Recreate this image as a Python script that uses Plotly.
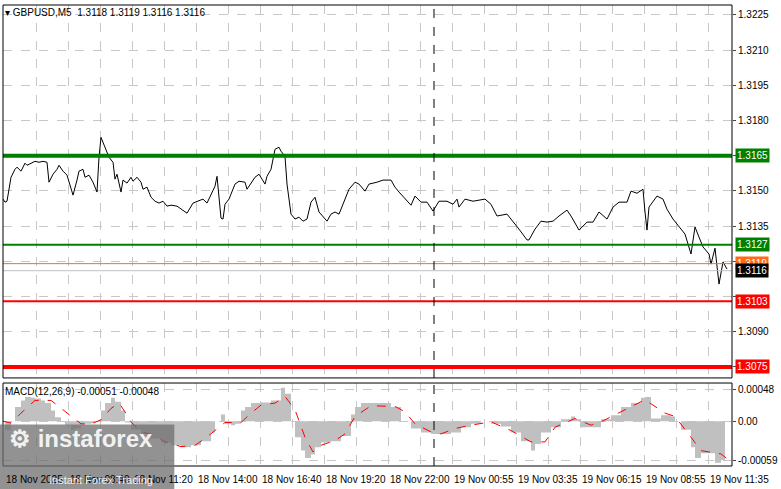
import plotly.graph_objects as go

# price series (bar index, close)
bars = [0,1,2,4,6,7,9,11,12,14,16,18,20,22,23,25,27,28,30,32,34,35,37,38,40,41,43,45,47,48,49,51,53,55,56,57,59,60,62,64,65,67,69,70,72,74,76,78,80,82,84,87,90,92,95,97,100,102,103,106,107,109,110,111,113,116,118,121,122,124,126,128,129,131,132,134,136,138,139,141,142,144,146,148,150,152,154,156,158,160,162,164,166,168,169,171,173,176,178,181,183,187,190,194,196,198,201,204,206,209,212,215,218,222,225,227,228,231,235,241,244,247,252,255,258,262,263,266,269,272,275,278,282,284,288,292,295,298,302,305,308,312,314,317,320,321,322,323,327,330,332,335,338,341,344,346,348,350,353,354,356,358,360,362]
prices = [1.31465,1.31452,1.31456,1.31558,1.31592,1.31601,1.31584,1.31618,1.31609,1.31618,1.31626,1.31622,1.31626,1.31622,1.31537,1.31571,1.31592,1.31609,1.31584,1.31567,1.31516,1.31482,1.31546,1.31584,1.31592,1.31558,1.31567,1.31537,1.31495,1.31643,1.31728,1.31686,1.31643,1.31622,1.31550,1.31571,1.31495,1.31546,1.31533,1.31558,1.31541,1.31558,1.31537,1.31507,1.31516,1.31473,1.31456,1.31448,1.31456,1.31435,1.31439,1.31435,1.31418,1.31405,1.31448,1.31456,1.31465,1.31448,1.31465,1.31520,1.31562,1.31384,1.31380,1.31443,1.31465,1.31529,1.31541,1.31537,1.31507,1.31533,1.31558,1.31571,1.31558,1.31529,1.31562,1.31592,1.31677,1.31686,1.31669,1.31647,1.31529,1.31401,1.31380,1.31388,1.31371,1.31380,1.31452,1.31473,1.31410,1.31388,1.31371,1.31401,1.31410,1.31401,1.31422,1.31465,1.31507,1.31537,1.31529,1.31499,1.31529,1.31537,1.31546,1.31546,1.31516,1.31495,1.31465,1.31439,1.31478,1.31452,1.31452,1.31414,1.31456,1.31456,1.31443,1.31465,1.31431,1.31465,1.31456,1.31465,1.31443,1.31393,1.31401,1.31371,1.31337,1.31291,1.31291,1.31337,1.31371,1.31367,1.31371,1.31393,1.31418,1.31393,1.31333,1.31367,1.31367,1.31410,1.31380,1.31431,1.31452,1.31452,1.31499,1.31490,1.31507,1.31410,1.31333,1.31431,1.31478,1.31465,1.31422,1.31380,1.31350,1.31316,1.31231,1.31346,1.31303,1.31261,1.31231,1.31188,1.31256,1.31103,1.31197,1.31167]

hist_bars = [0,1,4,6,9,11,14,16,19,21,24,26,29,31,34,36,39,41,44,46,49,51,54,56,59,61,64,69,74,79,84,89,94,99,104,106,109,111,114,116,119,121,124,129,134,139,141,144,146,149,151,154,156,159,164,169,174,176,179,184,189,194,199,204,209,214,219,224,229,234,239,244,249,254,259,264,266,269,274,279,284,286,289,294,299,304,309,314,319,321,324,329,334,336,339,344,346,349,354,356,359,361]
hist_vals = [0,-0.000135,0,0.00021,0.00031,0.00036,0.00035,0.00034,0.00031,0.00027,0.00016,0.00006,0,-0.00006,-0.00013,-0.00011,-0.00006,-0.00004,-0.00003,0,0.00016,0.00027,0.00035,0.00029,0.00016,-0.00002,-0.00013,-0.00019,-0.00026,-0.00032,-0.00036,-0.00039,-0.00036,-0.0003,-0.00017,0,0.0001,-0.00004,-0.00006,-0.00004,0.00016,0.00021,0.00027,0.00028,0.00031,0.0005,0.00041,0,-0.00024,-0.00044,-0.00055,-0.0005,-0.00039,-0.00032,-0.0003,-0.00022,0.0001,0.00021,0.00027,0.00027,0.00027,0.00021,0,-0.00011,-0.00017,-0.00019,-0.00019,-0.00017,-0.00009,-0.00004,0,-0.00004,-0.00008,-0.00017,-0.0003,-0.00044,-0.00034,-0.00017,-0.00009,0.00003,0.00007,0.00003,-0.00009,-0.00009,0.00003,0.00009,0.00021,0.00027,0.00035,0.00036,0.00004,0.00009,0.00007,0,-0.00013,-0.00039,-0.00055,-0.00048,-0.00048,-0.00062,-0.00058,-0.00062]

sig_bars = [0,4,9,16,24,29,34,39,44,49,54,58,61,64,69,76,81,89,96,101,106,111,119,124,129,136,141,146,151,155,159,166,171,176,184,196,201,206,214,219,226,234,244,254,264,271,276,286,294,299,309,321,331,336,344,349,359,362]
sig_vals = [0,-0.00003,0.00012,0.00031,0.00031,0.00019,0.00007,-0.00004,-0.00004,0.00002,0.00019,0.00027,0.00014,-0.00001,-0.00016,-0.00021,-0.00031,-0.00038,-0.00036,-0.00026,-0.00014,-0.00002,-0.00002,0.00012,0.00024,0.00027,0.00037,0.00017,-0.00024,-0.00046,-0.00036,-0.00029,-0.00019,0.00007,0.00023,0.00022,0.00014,-0.00004,-0.00016,-0.00019,-0.00011,-0.00006,-0.00001,-0.00014,-0.00031,-0.00031,-0.00009,0.00004,-0.00006,-0.00001,0.00014,0.00032,0.00012,0.00007,-0.00024,-0.00044,-0.00049,-0.00056]

price_ticks = [1.3225,1.3210,1.3195,1.3180,1.3165,1.3150,1.3135,1.3120,1.3105,1.3090,1.3075]
price_tick_labels = ["1.3225","1.3210","1.3195","1.3180","","1.3150","1.3135","","","1.3090",""]
levels = [1.3165, 1.3127, 1.3103, 1.3075]
level_colors = ["#008000", "#008000", "#ff0000", "#ff0000"]
level_widths = [4, 2, 2, 4]
time_pos = [0.5, 32.5, 64.5, 96.5, 128.5, 160.5, 192.5, 224.5, 256.5, 288.5, 320.5, 352.5]
time_labels = ["18 Nov 2025","18 Nov 08:40","18 Nov 11:20","18 Nov 14:00","18 Nov 16:40","18 Nov 19:20",
               "18 Nov 22:00","19 Nov 00:55","19 Nov 03:35","19 Nov 06:15","19 Nov 08:55","19 Nov 11:35"]
separator_bar = 215.5

F = "Liberation Sans"
FS = 10
fig = go.Figure()
fig.add_trace(go.Scatter(x=hist_bars, y=hist_vals, mode="lines", line=dict(width=0, shape="hv"),
                         fill="tozeroy", fillcolor="#c0c0c0", xaxis="x2", yaxis="y2"))
fig.add_trace(go.Scatter(x=sig_bars, y=sig_vals, mode="lines", line=dict(color="red", width=1, dash="dash"),
                         xaxis="x2", yaxis="y2"))
fig.add_trace(go.Scatter(x=bars, y=prices, mode="lines", line=dict(color="black", width=1)))

shapes = []
for lv, c, w in zip(levels, level_colors, level_widths):
    shapes.append(dict(type="line", xref="x domain", yref="y", x0=0, x1=1, y0=lv, y1=lv, line=dict(color=c, width=w)))
shapes.append(dict(type="line", xref="x domain", yref="y", x0=0, x1=1, y0=1.3119, y1=1.3119, line=dict(color="#ff6a1a", width=1)))
shapes.append(dict(type="line", xref="x domain", yref="y", x0=0, x1=1, y0=1.3116, y1=1.3116, line=dict(color="#c0c0c0", width=1)))
for ax, ay in (("x", "y"), ("x2", "y2")):
    shapes.append(dict(type="line", xref=ax, yref=ay + " domain", x0=separator_bar, x1=separator_bar, y0=0, y1=1,
                       line=dict(color="black", width=1, dash="dash")))
    shapes.append(dict(type="rect", xref=ax + " domain", yref=ay + " domain", x0=0, x1=1, y0=0, y1=1,
                       line=dict(color="black", width=1)))
shapes.append(dict(type="rect", xref="paper", yref="paper", x0=-0.01, x1=0.235, y0=-0.06, y1=0.09,
                   fillcolor="rgba(110,110,110,0.75)", line=dict(width=0), layer="above"))

ann = [dict(xref="paper", yref="paper", x=0.0, y=1.0, xanchor="left", yanchor="top",
            text="▾ GBPUSD,M5  1.3118 1.3119 1.3116 1.3116", showarrow=False, font=dict(family=F, size=FS, color="black")),
       dict(xref="paper", yref="paper", x=0.0, y=0.178, xanchor="left", yanchor="top",
            text="MACD(12,26,9) -0.00051 -0.00048", showarrow=False, font=dict(family=F, size=FS, color="black"))]
box_items = [(1.3165, "#008000", "1.3165"), (1.3127, "#008000", "1.3127"), (1.3119, "#ff6a1a", "1.3119"),
             (1.3116, "black", "1.3116"), (1.3103, "#ff0000", "1.3103"), (1.3075, "#ff0000", "1.3075")]
for v, c, t in box_items:
    ann.append(dict(xref="paper", yref="y", x=1.004, y=v, xanchor="left", yanchor="middle", text=t, showarrow=False,
                    bgcolor=c, borderpad=1, font=dict(family=F, size=FS, color="white")))
for p, t in zip(time_pos, time_labels):
    ann.append(dict(xref="x2", yref="paper", x=p, y=-0.012, xanchor="left", yanchor="top", text=t, showarrow=False,
                    font=dict(family=F, size=FS, color="black")))
ann.append(dict(xref="paper", yref="paper", x=0.005, y=0.06, xanchor="left", yanchor="middle",
                text="<b>⚙ instaforex</b>", showarrow=False, font=dict(family=F, size=24, color="rgba(255,255,255,0.9)")))
ann.append(dict(xref="paper", yref="paper", x=0.06, y=-0.03, xanchor="left", yanchor="middle",
                text="Instant Forex Trading", showarrow=False, font=dict(family=F, size=11, color="rgba(255,255,255,0.9)")))

grid = dict(showgrid=True, gridcolor="#c8c8c8", griddash="dash", gridwidth=1, zeroline=False)
fig.update_layout(
    width=781, height=489, margin=dict(l=3, r=49, t=5, b=23, autoexpand=False),
    paper_bgcolor="white", plot_bgcolor="white", showlegend=False,
    xaxis=dict(range=[0, 364.5], domain=[0, 1], tickvals=[16.5 + 16 * k for k in range(23)], showticklabels=False, **grid),
    xaxis2=dict(range=[0, 364.5], domain=[0, 1], anchor="y2", tickvals=[16.5 + 16 * k for k in range(23)], showticklabels=False, **grid),
    yaxis=dict(domain=[0.191, 1], range=[1.30703, 1.32292], side="right", tickvals=price_ticks, ticktext=price_tick_labels,
               ticks="outside", ticklen=3, tickfont=dict(family=F, size=FS, color="black"), automargin=False, **grid),
    yaxis2=dict(domain=[0, 0.18], range=[-0.00067, 0.00057], side="right", anchor="x2", automargin=False,
                tickvals=[0.00048, 0, -0.00059], ticktext=["0.00048", "0.00", "-0.00059"], ticks="outside", ticklen=3,
                tickfont=dict(family=F, size=FS, color="black"), **grid),
    shapes=shapes, annotations=ann,
)
fig.write_html("out.html", config={"displayModeBar": False},
               post_script="document.body.style.margin='0';document.body.style.overflow='hidden';")
